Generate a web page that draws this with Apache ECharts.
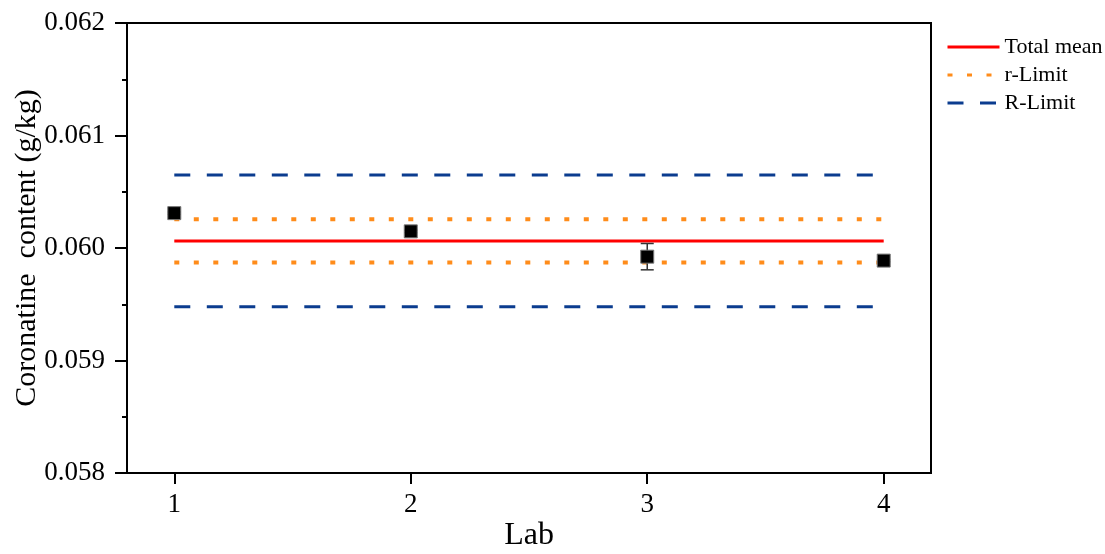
<!DOCTYPE html>
<html>
<head>
<meta charset="utf-8">
<script src="https://cdn.jsdelivr.net/npm/echarts@6/dist/echarts.min.js"></script>
<style>
  html, body { margin: 0; padding: 0; background: #fff; }
  #chart { width: 1105px; height: 554px; }
</style>
</head>
<body>
<div id="chart"></div>
<script>
// Coronatine content measured by each lab, with the precision limits
const labs = [1, 2, 3, 4];
const content = [0.060310, 0.060148, 0.059923, 0.059888];
const errors = [0.000010, 0.000010, 0.000117, 0.000010];
const totalMean = 0.060062;
const rLimit = [0.059872, 0.060256];   // repeatability limit (lower, upper)
const RLimit = [0.059478, 0.060648];   // reproducibility limit (lower, upper)
const yTicks = [0.058, 0.059, 0.060, 0.061, 0.062];

const FONT = '"Liberation Serif", "Times New Roman", serif';
const labStart = labs[0];
const labEnd = labs[labs.length - 1];

function hLine(v) { return [[labStart, v], [labEnd, v]]; }

const chart = echarts.init(document.getElementById('chart'), null, { renderer: 'canvas' });

const series = [
  {
    name: 'Total mean', type: 'line', data: hLine(totalMean), symbol: 'none',
    lineStyle: { color: '#ff0000', width: 3, type: 'solid' },
    itemStyle: { color: '#ff0000' }, z: 3, silent: true
  }
];
rLimit.forEach(v => series.push({
  name: 'r-Limit', type: 'line', data: hLine(v), symbol: 'none',
  lineStyle: { color: '#ff8c1a', width: 4, type: [5, 14.5], cap: 'butt' },
  itemStyle: { color: '#ff8c1a' }, z: 2, silent: true
}));
RLimit.forEach(v => series.push({
  name: 'R-Limit', type: 'line', data: hLine(v), symbol: 'none',
  lineStyle: { color: '#0b3c8f', width: 3, type: [16, 16.5] },
  itemStyle: { color: '#0b3c8f' }, z: 2, silent: true
}));

// error bars
series.push({
  type: 'custom', z: 4, silent: true,
  data: labs.map((x, i) => [x, content[i] - errors[i], content[i] + errors[i]]),
  renderItem: function (params, api) {
    const lo = api.coord([api.value(0), api.value(1)]);
    const hi = api.coord([api.value(0), api.value(2)]);
    const hw = 6.5;
    const st = { stroke: '#333', lineWidth: 1.5 };
    return {
      type: 'group',
      children: [
        { type: 'line', shape: { x1: lo[0], y1: lo[1], x2: hi[0], y2: hi[1] }, style: st },
        { type: 'line', shape: { x1: lo[0] - hw, y1: lo[1], x2: lo[0] + hw, y2: lo[1] }, style: st },
        { type: 'line', shape: { x1: hi[0] - hw, y1: hi[1], x2: hi[0] + hw, y2: hi[1] }, style: st }
      ]
    };
  }
});

// lab means
series.push({
  type: 'scatter', z: 5, silent: true,
  data: labs.map((x, i) => [x, content[i]]),
  symbol: 'rect', symbolSize: 13,
  itemStyle: { color: '#000', opacity: 1, borderColor: '#777', borderWidth: 1 }
});

chart.setOption({
  animation: false,
  backgroundColor: '#fff',
  grid: {
    left: 127, right: 174, top: 23, bottom: 81,
    containLabel: false, outerBoundsMode: 'none',
    show: true, borderColor: '#000', borderWidth: 2, backgroundColor: 'transparent'
  },
  legend: {
    data: ['Total mean', 'r-Limit', 'R-Limit'],
    orient: 'vertical', left: 941, top: 31,
    itemWidth: 52, itemHeight: 14, itemGap: 6,
    itemStyle: { opacity: 0 },
    lineStyle: { width: 3 },
    textStyle: { fontFamily: FONT, fontSize: 22, color: '#000' },
    selectedMode: false
  },
  xAxis: {
    type: 'value', min: 0.8, max: 4.2,
    name: 'Lab', nameLocation: 'middle', nameGap: 47, nameMoveOverlap: false,
    nameTextStyle: { fontFamily: FONT, fontSize: 32, color: '#000' },
    axisLine: { show: true, onZero: false, lineStyle: { color: '#000', width: 2 } },
    axisTick: { show: true, inside: false, length: 11, customValues: labs, lineStyle: { color: '#000', width: 2 } },
    axisLabel: { customValues: labs, margin: 18, fontFamily: FONT, fontSize: 27, color: '#000' },
    splitLine: { show: false }
  },
  yAxis: {
    type: 'value', min: yTicks[0], max: yTicks[yTicks.length - 1], interval: 0.001,
    name: 'Coronatine  content (g/kg)', nameLocation: 'middle', nameGap: 85, nameMoveOverlap: false,
    nameTextStyle: { fontFamily: FONT, fontSize: 30, color: '#000' },
    axisLine: { show: true, onZero: false, lineStyle: { color: '#000', width: 2 } },
    axisTick: { show: true, inside: false, length: 12, lineStyle: { color: '#000', width: 2 } },
    minorTick: { show: true, splitNumber: 2, length: 5, lineStyle: { color: '#000', width: 2 } },
    axisLabel: {
      margin: 22, fontFamily: FONT, fontSize: 27, color: '#000',
      formatter: v => v.toFixed(3)
    },
    splitLine: { show: false }
  },
  series: series
});
</script>
</body>
</html>
